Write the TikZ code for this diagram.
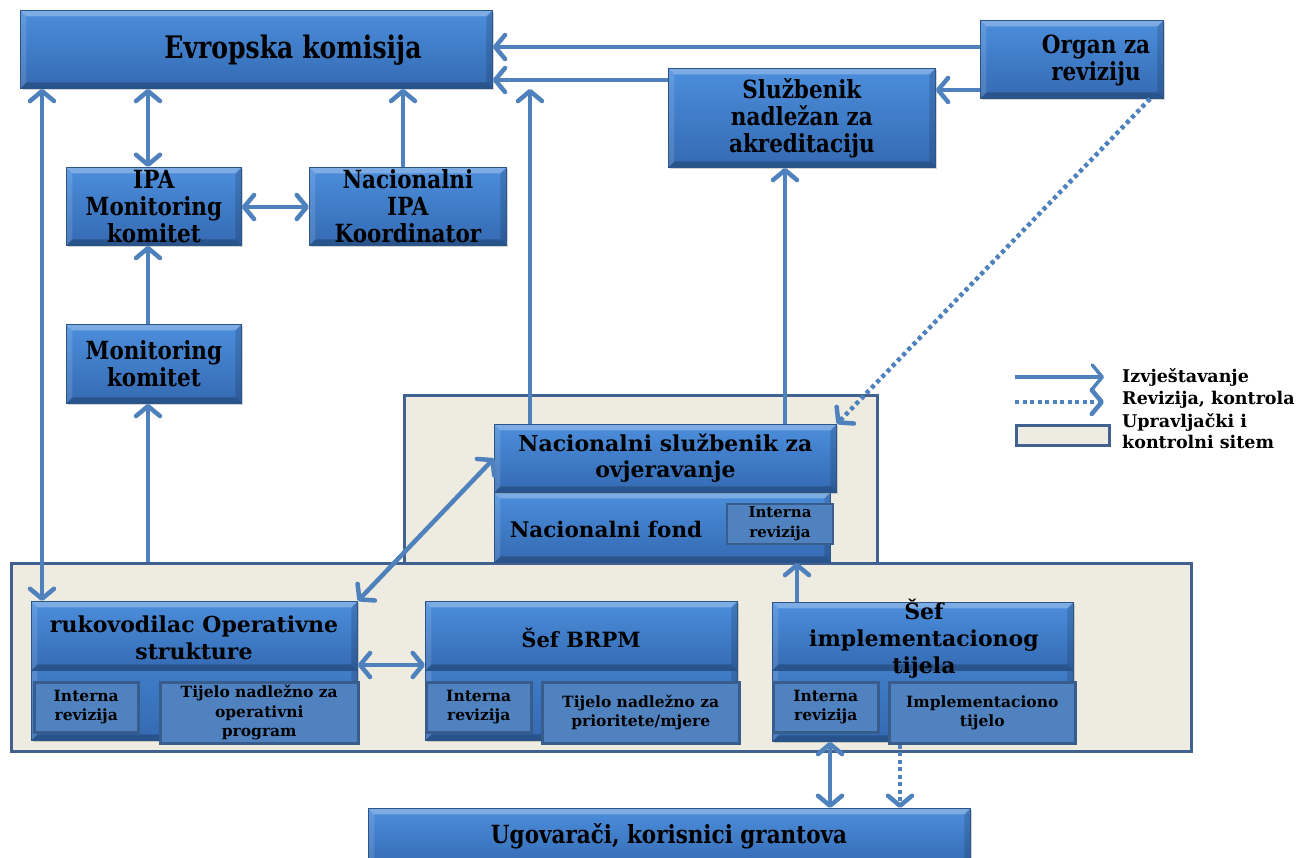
\documentclass[tikz,border=0pt]{standalone}
\usepackage{fontspec}
\setmainfont{DejaVu Serif}
\newfontfamily\condfont[FakeStretch=0.86]{DejaVu Serif}
\newfontfamily\ekfont[FakeStretch=0.81]{DejaVu Serif}
\usetikzlibrary{arrows.meta,shadows,calc}
\definecolor{boxtop}{RGB}{76,142,220}
\definecolor{boxbot}{RGB}{52,106,178}
\definecolor{boxborder}{RGB}{44,84,136}
\definecolor{subfill}{RGB}{80,130,192}
\definecolor{subborder}{RGB}{56,93,140}
\definecolor{arrowc}{RGB}{79,129,189}
\definecolor{beige}{RGB}{238,236,225}
\definecolor{contborder}{RGB}{65,98,145}
\tikzset{
  bevel/.style={path picture={
    \fill[white,opacity=0.28] (path picture bounding box.north west) -- (path picture bounding box.north east)
      -- ($(path picture bounding box.north east)+(-6pt,-6pt)$) -- ($(path picture bounding box.north west)+(6pt,-6pt)$) -- cycle;
    \fill[black,opacity=0.22] (path picture bounding box.south west) -- (path picture bounding box.south east)
      -- ($(path picture bounding box.south east)+(-6pt,6pt)$) -- ($(path picture bounding box.south west)+(6pt,6pt)$) -- cycle;
    \fill[white,opacity=0.12] (path picture bounding box.north west) -- ($(path picture bounding box.north west)+(6pt,-6pt)$)
      -- ($(path picture bounding box.south west)+(6pt,6pt)$) -- (path picture bounding box.south west) -- cycle;
    \fill[black,opacity=0.14] (path picture bounding box.north east) -- ($(path picture bounding box.north east)+(-6pt,-6pt)$)
      -- ($(path picture bounding box.south east)+(-6pt,6pt)$) -- (path picture bounding box.south east) -- cycle;
  }},
  bbox/.style={draw=boxborder, line width=0.8pt, top color=boxtop, bottom color=boxbot, bevel,
    anchor=north west, align=center, inner sep=1pt,
    drop shadow={shadow xshift=2pt, shadow yshift=-2pt, opacity=0.35}},
  hbox/.style={draw=boxborder, line width=0.8pt, top color=boxtop, bottom color=boxbot, bevel,
    anchor=north west, inner sep=0pt},
  sbox/.style={draw=subborder, line width=2.5pt, fill=subfill, anchor=north west,
    align=center, inner sep=0pt, font=\bfseries\fontsize{15.5}{19.5}\selectfont},
  cont/.style={draw=contborder, line width=2.5pt, fill=beige, anchor=north west, inner sep=0pt},
  txt/.style={align=center, inner sep=0pt},
  bigc/.style={font=\condfont\bfseries\fontsize{25}{27}\selectfont},
  bign/.style={font=\bfseries\fontsize{22}{26}\selectfont},
  rep/.style={draw=arrowc, line width=4.5pt, -{Straight Barb[length=10pt,width=24pt,round]}},
  repb/.style={draw=arrowc, line width=4.5pt, {Straight Barb[length=10pt,width=24pt,round]}-{Straight Barb[length=10pt,width=24pt,round]}},
  audit/.style={draw=arrowc, line width=4.5pt, dash pattern=on 4pt off 3.5pt, -{Straight Barb[length=10pt,width=24pt,round]}},
  legt/.style={txt, anchor=west, font=\bfseries\fontsize{17.5}{21}\selectfont},
}
\begin{document}
\begin{tikzpicture}[x=1pt,y=-1pt]
\useasboundingbox (0,0) rectangle (1309,857);
% containers
\node[cont, minimum width=473pt, minimum height=168pt] (upc) at (403,394) {};
\node[cont, minimum width=1180pt, minimum height=188pt] (lowc) at (10,562) {};
% top boxes
\node[bbox, minimum width=472pt, minimum height=78pt] (ek) at (20,10) {};
\node[txt, font=\ekfont\bfseries\fontsize{31}{34}\selectfont] (ekt) at (293,50) {Evropska komisija};
\node[bbox, minimum width=183pt, minimum height=78pt] (org) at (980,20) {};
\node[txt, bigc] (orgt) at (1096,60) {Organ za\\reviziju};
\node[bbox, bigc, minimum width=267pt, minimum height=99pt] (slu) at (668,68) {Službenik\\nadležan za\\akreditaciju};
\node[bbox, bigc, minimum width=175pt, minimum height=78pt] (ipamk) at (66,167) {IPA\\Monitoring\\komitet};
\node[bbox, bigc, minimum width=197pt, minimum height=78pt] (koord) at (309,167) {Nacionalni\\IPA\\Koordinator};
\node[bbox, bigc, minimum width=175pt, minimum height=79pt] (mk) at (66,324) {Monitoring\\komitet};
% national fund
\node[hbox, minimum width=336pt, minimum height=70pt] (fond) at (494,492) {};
\node[txt, bign, font=\bfseries\fontsize{21.5}{26}\selectfont, anchor=center] (fondt) at (606,529) {Nacionalni fond};
\node[sbox, line width=2pt, font=\bfseries\fontsize{15}{20}\selectfont, minimum width=106pt, minimum height=40pt] (fondir) at (726,503) {Interna\\revizija};
\node[bbox, bign, minimum width=342pt, minimum height=68pt] (nso) at (494,424) {Nacionalni službenik za\\ovjeravanje};
% rukovodilac
\node[hbox, minimum width=326pt, minimum height=139pt, drop shadow={shadow xshift=2pt, shadow yshift=-2pt, opacity=0.35}] (ruk) at (31,601) {};
\node[hbox, minimum width=326pt, minimum height=69pt] (rukh) at (31,601) {};
\node[sbox, minimum width=104pt, minimum height=50pt] (rukir) at (33,681) {Interna\\revizija};
\node[sbox, minimum width=198pt, minimum height=61pt] (ruktn) at (159,681) {Tijelo nadležno za\\operativni\\program};
\node[txt, bign, font=\bfseries\fontsize{22}{27}\selectfont] (rukt) at (194,638) {rukovodilac Operativne\\strukture};
% BRPM
\node[hbox, minimum width=312pt, minimum height=139pt, drop shadow={shadow xshift=2pt, shadow yshift=-2pt, opacity=0.35}] (brpm) at (425,601) {};
\node[hbox, minimum width=312pt, minimum height=69pt] (brpmh) at (425,601) {};
\node[sbox, minimum width=105pt, minimum height=50pt] (brpmir) at (425,681) {Interna\\revizija};
\node[sbox, minimum width=197pt, minimum height=61pt] (brpmtn) at (541,681) {Tijelo nadležno za\\prioritete/mjere};
\node[txt, bign, font=\bfseries\fontsize{21}{27}\selectfont] (brpmt) at (581,638) {Šef BRPM};
% implementation
\node[hbox, minimum width=301pt, minimum height=139pt, drop shadow={shadow xshift=2pt, shadow yshift=-2pt, opacity=0.35}] (impl) at (772,602) {};
\node[hbox, minimum width=301pt, minimum height=68pt] (implh) at (772,602) {};
\node[sbox, minimum width=105pt, minimum height=50pt] (implir) at (772,681) {Interna\\revizija};
\node[sbox, minimum width=186pt, minimum height=61pt] (impltn) at (888,681) {Implementaciono\\tijelo};
\node[txt, bign, font=\bfseries\fontsize{22}{27}\selectfont] (implt) at (924,639) {Šef\\implementacionog\\tijela};
% Ugovaraci
\node[bbox, minimum width=602pt, minimum height=60pt] (ugo) at (368,808) {};
\node[txt, bigc] (ugot) at (669,836) {Ugovarači, korisnici grantova};
% helper coordinates
\coordinate (h1) at (0,47);
\coordinate (h2) at (0,80);
\coordinate (h3) at (0,90);
\coordinate (h4) at (0,207);
\coordinate (h5) at (0,665);
\coordinate (v1) at (42,0);
\coordinate (v2) at (148,0);
\coordinate (v3) at (403,0);
\coordinate (v4) at (530,0);
\coordinate (v5) at (785,0);
\coordinate (v6) at (797,0);
\coordinate (v7) at (830,0);
\coordinate (v8) at (900,0);
\coordinate (v9) at (1150,0);
% connectors
\draw[rep] (org.west |- h1) -- (ek.east |- h1);
\draw[rep] (slu.west |- h2) -- (ek.east |- h2);
\draw[rep] (org.west |- h3) -- (slu.east |- h3);
\draw[repb] (ek.south -| v1) -- (ruk.north -| v1);
\draw[repb] (ek.south -| v2) -- (ipamk.north -| v2);
\draw[repb] (ipamk.east |- h4) -- (koord.west |- h4);
\draw[rep] (koord.north -| v3) -- (ek.south -| v3);
\draw[rep] (mk.north -| v2) -- (ipamk.south -| v2);
\draw[rep] (lowc.north -| v2) -- (mk.south -| v2);
\draw[rep] (nso.north -| v4) -- (ek.south -| v4);
\draw[rep] (nso.north -| v5) -- (slu.south -| v5);
\draw[audit] (org.south -| v9) -- (nso.north east);
\draw[repb] (ruk.north east) -- (nso.west);
\draw[repb] (ruk.east |- h5) -- (brpm.west |- h5);
\draw[rep] (impl.north -| v6) -- (fond.south -| v6);
\draw[repb] (impl.south -| v7) -- (ugo.north -| v7);
\draw[audit] (impltn.south -| v8) -- (ugo.north -| v8);
% legend
\coordinate (la1) at (1015,377);
\coordinate (la2) at (1104,377);
\coordinate (lb1) at (1015,402);
\coordinate (lb2) at (1104,402);
\draw[rep, line width=3.5pt] (la1) -- (la2);
\draw[audit] (lb1) -- (lb2);
\node[cont, minimum width=93pt, minimum height=20pt] (lc) at (1015,424) {};
\node[legt] (lt1) at (1122,377) {Izvještavanje};
\node[legt] (lt2) at (1122,400) {Revizija, kontrola};
\node[legt] (lt3) at (1122,422) {Upravljački i};
\node[legt] (lt4) at (1122,442) {kontrolni sitem};
\end{tikzpicture}
\end{document}
